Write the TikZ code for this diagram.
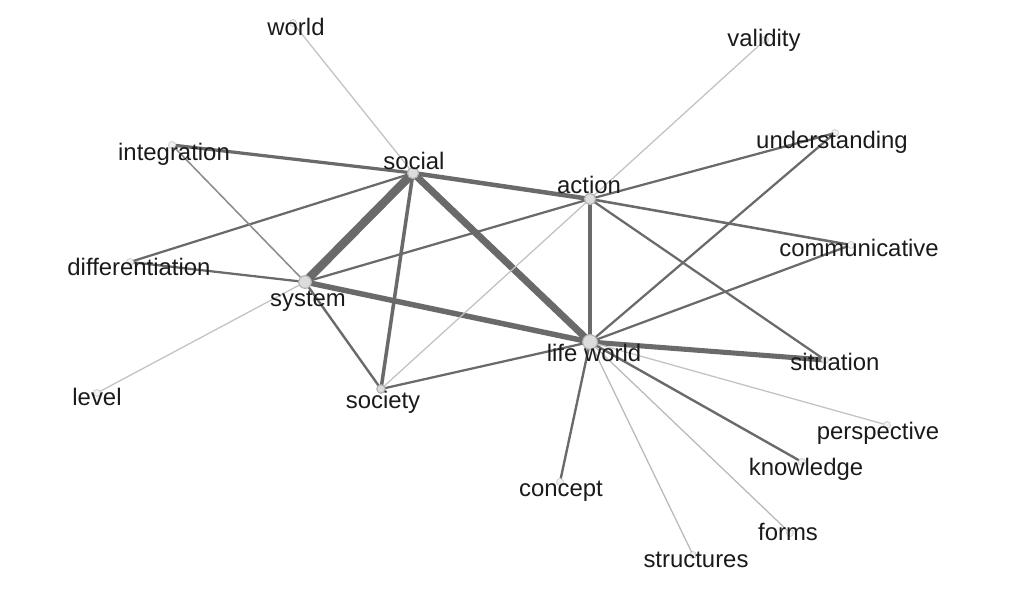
\documentclass[tikz,border=0pt]{standalone}
\usepackage{fontspec}
\setmainfont{Liberation Sans}
\usetikzlibrary{backgrounds}
\definecolor{edgegray}{HTML}{6A6A6A}
\definecolor{midgray}{HTML}{8C8C8C}
\definecolor{faintgray}{HTML}{C2C2C2}
\definecolor{dotgray}{HTML}{DCDCDC}
\definecolor{textgray}{HTML}{1A1A1A}

\begin{document}
\begin{tikzpicture}[x=0.025cm, y=-0.025cm, font=\fontsize{17}{20}\selectfont,
    hub/.style={circle, draw=gray!60, fill=dotgray, line width=0.8pt, inner sep=0pt, minimum size=#1},
    leaf/.style={circle, draw=gray!35, fill=gray!10, line width=0.6pt, inner sep=0pt, minimum size=5pt},
    word/.style={text=textgray, inner sep=0pt, text height=12pt, text depth=0pt},
    link/.style={draw=edgegray, line width=#1},
    midlink/.style={draw=midgray, line width=1.1pt},
    faint/.style={draw=faintgray, line width=0.9pt}]
    \useasboundingbox (0,0) rectangle (1032,591);

    \node[hub=8pt] (social) at (413,173) {};
    \node[hub=8pt] (action) at (590,199) {};
    \node[hub=9pt] (system) at (305,282) {};
    \node[hub=10.5pt] (lifeworld) at (590,342) {};
    \node[hub=6pt] (society) at (381,389) {};
    \node[leaf] (world) at (293,23) {};
    \node[leaf] (integration) at (172,145) {};
    \node[leaf] (differentiation) at (130,262) {};
    \node[leaf] (level) at (97,393) {};
    \node[leaf] (validity) at (765,40) {};
    \node[leaf] (understanding) at (835,133) {};
    \node[leaf] (communicative) at (851,245) {};
    \node[leaf] (situation) at (825,360) {};
    \node[leaf] (perspective) at (887,425) {};
    \node[leaf] (knowledge) at (802,462) {};
    \node[leaf] (concept) at (560,482) {};
    \node[leaf] (forms) at (790,533) {};
    \node[leaf] (structures) at (693,555) {};

    \begin{scope}[on background layer]
        \draw[link=6pt] (social.center) -- (system.center);
        \draw[link=5pt] (social.center) -- (lifeworld.center);
        \draw[link=3.9pt] (system.center) -- (lifeworld.center);
        \draw[link=3.6pt] (lifeworld.center) -- (situation.center);
        \draw[link=3.2pt] (social.center) -- (action.center);
        \draw[link=3.2pt] (action.center) -- (lifeworld.center);
        \draw[link=2.5pt] (social.center) -- (society.center);
        \draw[link=2.3pt] (integration.center) -- (social.center);
        \draw[link=1.6pt] (system.center) -- (action.center);
        \draw[link=1.7pt] (system.center) -- (society.center);
        \draw[link=1.6pt] (society.center) -- (lifeworld.center);
        \draw[link=1.6pt] (differentiation.center) -- (social.center);
        \draw[link=1.6pt] (differentiation.center) -- (system.center);
        \draw[link=1.6pt] (action.center) -- (understanding.center);
        \draw[link=1.8pt] (action.center) -- (communicative.center);
        \draw[link=1.6pt] (action.center) -- (situation.center);
        \draw[link=1.6pt] (understanding.center) -- (lifeworld.center);
        \draw[link=1.6pt] (communicative.center) -- (lifeworld.center);
        \draw[link=1.7pt] (lifeworld.center) -- (knowledge.center);
        \draw[link=1.7pt] (lifeworld.center) -- (concept.center);
        \draw[midlink] (integration.center) -- (system.center);
        \draw[faint] (world.center) -- (social.center);
        \draw[faint] (system.center) -- (level.center);
        \draw[faint] (society.center) -- (action.center);
        \draw[faint] (action.center) -- (validity.center);
        \draw[faint] (lifeworld.center) -- (perspective.center);
        \draw[faint, draw=gray!55] (lifeworld.center) -- (forms.center);
        \draw[faint, draw=gray!55] (lifeworld.center) -- (structures.center);
    \end{scope}

    \node[word] (social-l) at (414,161) {social};
    \node[word] (action-l) at (589,185) {action};
    \node[word] (system-l) at (308,298) {system};
    \node[word] (lifeworld-l) at (594,353) {life world};
    \node[word] (society-l) at (383,400) {society};
    \node[word] (world-l) at (296,27) {world};
    \node[word] (integration-l) at (174,152) {integration};
    \node[word] (differentiation-l) at (139,267) {differentiation};
    \node[word] (level-l) at (97,397) {level};
    \node[word] (validity-l) at (764,38) {validity};
    \node[word] (understanding-l) at (832,140) {understanding};
    \node[word] (communicative-l) at (859,248) {communicative};
    \node[word] (situation-l) at (835,362) {situation};
    \node[word] (perspective-l) at (878,431) {perspective};
    \node[word] (knowledge-l) at (806,467) {knowledge};
    \node[word] (concept-l) at (561,488) {concept};
    \node[word] (forms-l) at (788,532) {forms};
    \node[word] (structures-l) at (696,559) {structures};
\end{tikzpicture}
\end{document}
